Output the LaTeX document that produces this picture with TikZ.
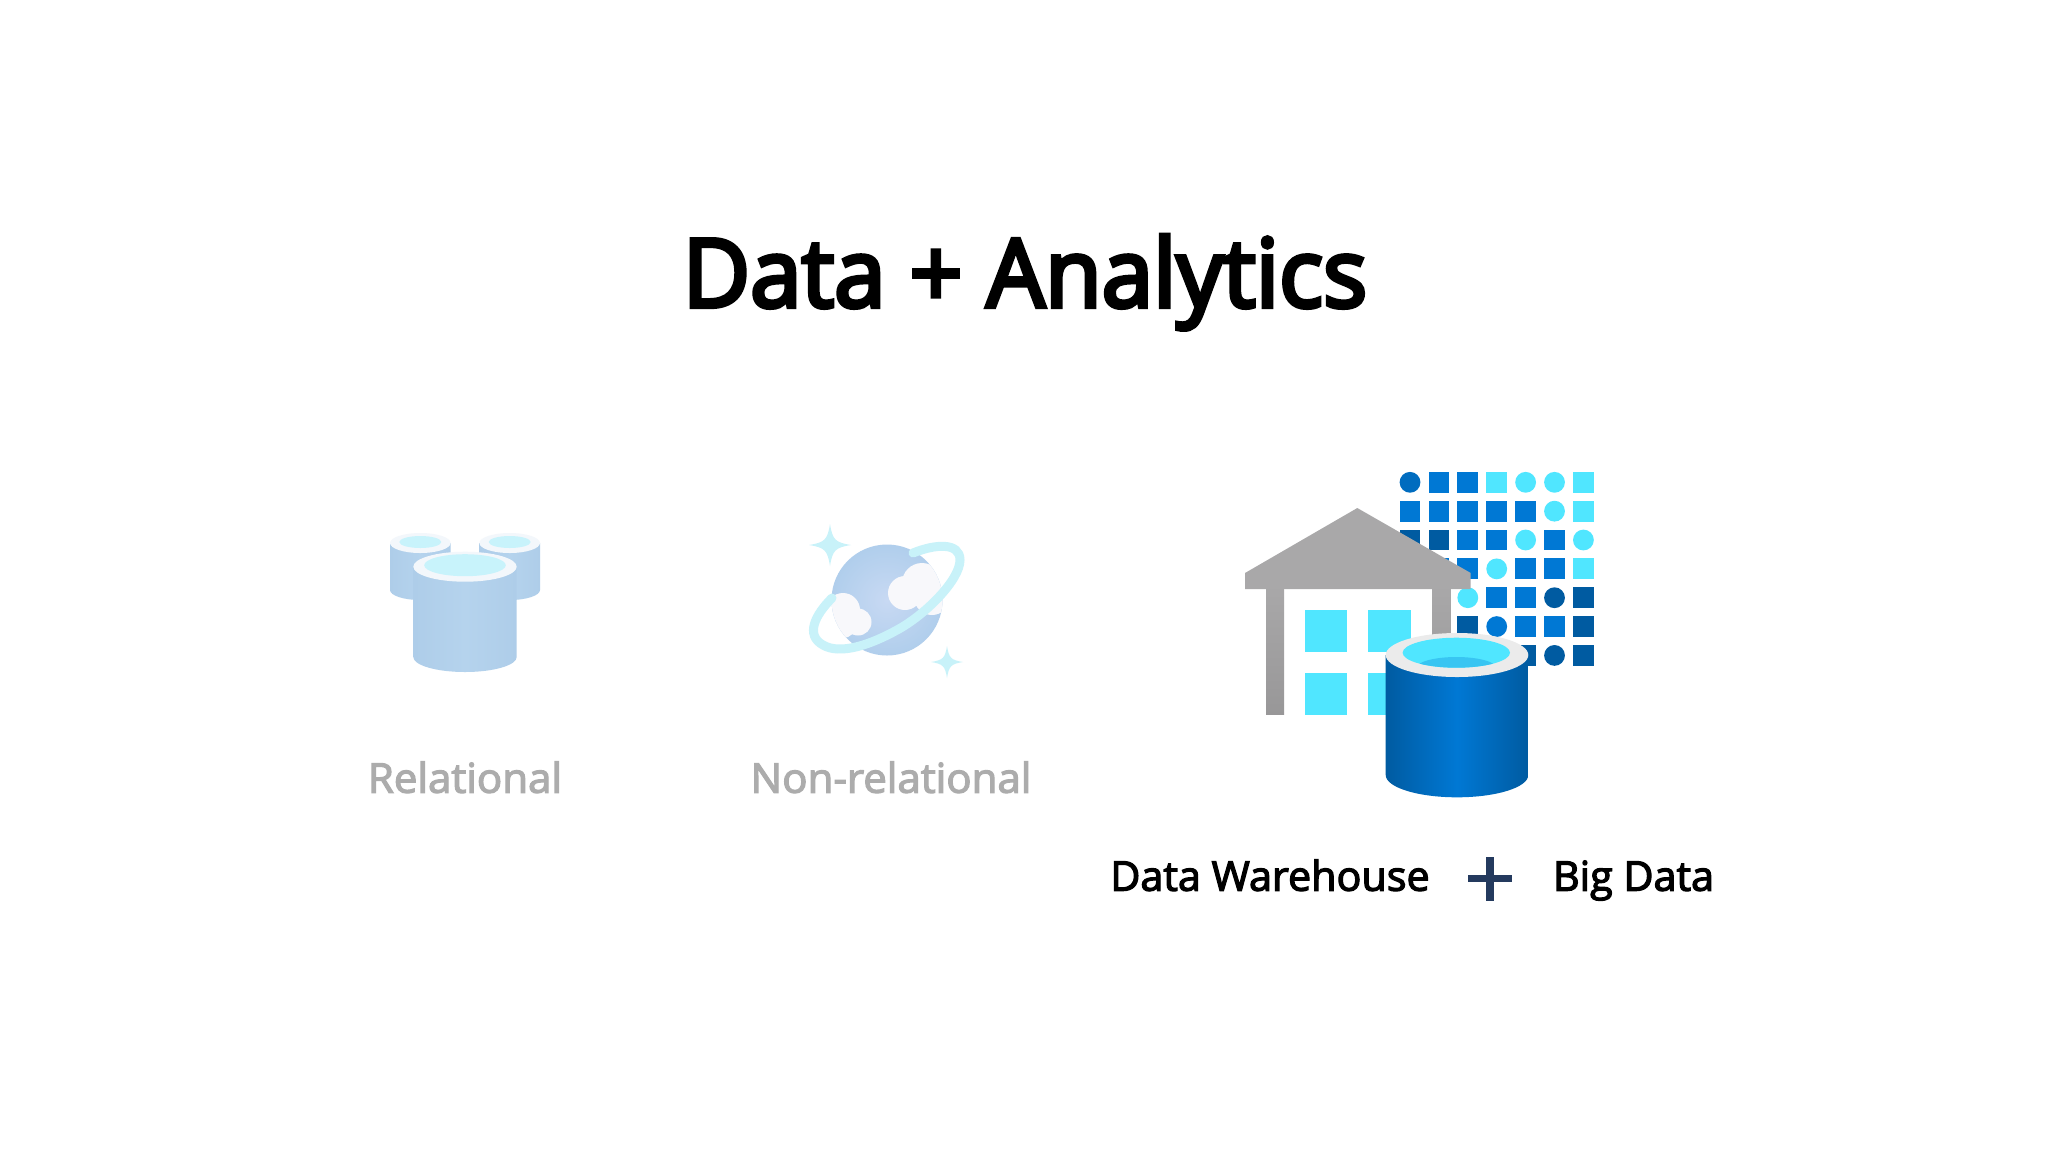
\documentclass[tikz,border=0pt]{standalone}
\usepackage{fontspec}
\setmainfont{Open Sans}
\newfontfamily\titlefont[FakeBold=4.5,FakeStretch=0.973]{Open Sans}
\newfontfamily\labfont[FakeBold=3,FakeStretch=1.007]{Open Sans}
\newfontfamily\fadefont[FakeBold=3,FakeStretch=1.025]{Open Sans}
\usetikzlibrary{calc}
\definecolor{azmid}{HTML}{0078D4}
\definecolor{azdark}{HTML}{005BA1}
\definecolor{azlight}{HTML}{50E6FF}
\definecolor{roofgrey}{HTML}{A9A8A9}
\definecolor{plusblue}{HTML}{243A5E}
\definecolor{fadetxt}{HTML}{ACACAC}
\definecolor{fadebody}{HTML}{B5D3ED}
\definecolor{fadebodyedge}{HTML}{AECDE9}
\definecolor{fadering}{HTML}{F3F7FB}
\definecolor{fadewater}{HTML}{C8F3FB}
\definecolor{fadeglobein}{HTML}{C8D9F3}
\definecolor{fadeglobeout}{HTML}{B0CEEC}
\definecolor{faderingb}{HTML}{C8F2F9}
\definecolor{fadecloud}{HTML}{F8F8FB}
\tikzset{
  x=0.5pt,y=-0.5pt,
  title/.style={font=\titlefont\fontsize{47.5}{56}\selectfont,text=black,inner sep=0pt,anchor=base},
  lab/.style={font=\labfont\fontsize{20.5}{25}\selectfont,text=black,inner sep=0pt,anchor=base},
  fadelab/.style={font=\fadefont\fontsize{20.5}{25}\selectfont,text=fadetxt,inner sep=0pt,anchor=base},
}
\newcommand{\fadedcyl}[8]{%
  \shade[left color=fadebodyedge,right color=fadebodyedge,middle color=fadebody]
    (#1-#3,#2) -- (#1-#3,#5) arc[start angle=180,end angle=360,x radius=#3,y radius=-#4]
    -- (#1+#3,#2) -- cycle;
  \fill[fadering] (#1,#2) ellipse[x radius=#3,y radius=#4];
  \fill[fadewater] (#1,#2+#8) ellipse[x radius=#6,y radius=#7];
}
\newcommand{\gridsq}[3]{\fill[#3] ({1410+28.9*#1-10.4},{482.3+28.85*#2-10.4}) rectangle ++(20.8,20.8);}
\newcommand{\griddot}[3]{\fill[#3] ({1410+28.9*#1},{482.3+28.85*#2}) circle[radius=10.4];}
\newcommand{\sparkle}[3]{\fill[faderingb] (#1,#2-#3) .. controls (#1+0.12*#3,#2-0.25*#3) and (#1+0.25*#3,#2-0.12*#3) .. (#1+#3,#2)
  .. controls (#1+0.25*#3,#2+0.12*#3) and (#1+0.12*#3,#2+0.25*#3) .. (#1,#2+#3)
  .. controls (#1-0.12*#3,#2+0.25*#3) and (#1-0.25*#3,#2+0.12*#3) .. (#1-#3,#2)
  .. controls (#1-0.25*#3,#2-0.12*#3) and (#1-0.12*#3,#2-0.25*#3) .. (#1,#2-#3) -- cycle;}
\begin{document}
\begin{tikzpicture}
\useasboundingbox (0,0) rectangle (2048,1152);
\fill[white] (0,0) rectangle (2048,1152);

\node[title] (ttl) at (1025,307) {Data + Analytics};

% relational icon
\fadedcyl{420.3}{543}{30.3}{10}{590}{21}{6}{-1}
\fadedcyl{509.7}{543}{30.3}{10}{590}{21}{6}{-1}
\fadedcyl{465}{566.7}{51.7}{15}{657}{40.8}{11}{-1.5}
\node[fadelab] (rel) at (465,792.7) {Relational};

% non-relational icon
\shade[inner color=fadeglobein,outer color=fadeglobeout] (887,600) circle[radius=55.5];
\begin{scope}
  \clip (887,600) circle[radius=55.5];
  \fill[fadecloud] (905,593) circle[radius=17] (922,583) circle[radius=20] (932,597) circle[radius=18];
  \fill[fadecloud] (843,610) circle[radius=17] (858,622) circle[radius=13.5] (843,625) circle[radius=13] (832,620) circle[radius=12];
\end{scope}
\draw[faderingb,line width=4.5pt,line cap=round]
  (913,553) .. controls (935,544) and (960,542) .. (960,560)
  .. controls (960,580) and (925,615) .. (897,630)
  .. controls (870,645) and (840,655) .. (823,645)
  .. controls (805,635) and (815,615) .. (832,598);
\sparkle{830}{545}{21}
\sparkle{947}{662}{16}
\node[fadelab] (nonrel) at (891,792.7) {Non-relational};

% big data grid
\griddot{0}{0}{azmid!90!black}\gridsq{1}{0}{azmid}\gridsq{2}{0}{azmid}\gridsq{3}{0}{azlight}\griddot{4}{0}{azlight}\griddot{5}{0}{azlight}\gridsq{6}{0}{azlight}
\gridsq{0}{1}{azmid}\gridsq{1}{1}{azmid}\gridsq{2}{1}{azmid}\gridsq{3}{1}{azmid}\gridsq{4}{1}{azmid}\griddot{5}{1}{azlight}\gridsq{6}{1}{azlight}
\gridsq{0}{2}{azdark}\gridsq{1}{2}{azdark}\gridsq{2}{2}{azmid}\gridsq{3}{2}{azmid}\griddot{4}{2}{azlight}\gridsq{5}{2}{azmid}\griddot{6}{2}{azlight}
\gridsq{1}{3}{azmid}\gridsq{2}{3}{azmid}\griddot{3}{3}{azlight}\gridsq{4}{3}{azmid}\gridsq{5}{3}{azmid}\gridsq{6}{3}{azlight}
\griddot{2}{4}{azlight}\gridsq{3}{4}{azmid}\gridsq{4}{4}{azmid}\griddot{5}{4}{azdark}\gridsq{6}{4}{azdark}
\gridsq{2}{5}{azdark}\griddot{3}{5}{azmid}\gridsq{4}{5}{azmid}\gridsq{5}{5}{azmid}\gridsq{6}{5}{azdark}
\gridsq{4}{6}{azdark}\griddot{5}{6}{azdark}\gridsq{6}{6}{azdark}

% warehouse
\fill[white] (1284,589) rectangle (1432.3,716);
\fill[azlight] (1304.7,610) rectangle (1347,652.3);
\fill[azlight] (1368.3,610) rectangle (1410.7,652.3);
\fill[azlight] (1304.7,673.3) rectangle (1347,715);
\fill[azlight] (1368.3,673.3) rectangle (1410.7,715);
\shade[top color=roofgrey,bottom color=roofgrey!90!black] (1266,585) rectangle (1284,714);
\shade[top color=roofgrey,bottom color=roofgrey!90!black] (1432.3,585) rectangle (1450.7,714);
\fill[roofgrey] (1357.3,508) -- (1470.7,573) -- (1470.7,589) -- (1245,589) -- (1245,573) -- cycle;

% cylinder
\shade[left color=azdark,right color=azdark,middle color=azmid]
  (1385.7,655) -- (1385.7,775) arc[start angle=180,end angle=360,x radius=71.3,y radius=-22.3]
  -- (1528.3,655) -- cycle;
\fill[black!8] (1457,655) ellipse[x radius=71.3,y radius=22];
\fill[azlight] (1456.3,652.7) ellipse[x radius=53.7,y radius=15];
\begin{scope}
  \clip (1456.3,652.7) ellipse[x radius=53.7,y radius=15];
  \fill[azlight!70!azmid] (1456.3,668) ellipse[x radius=40,y radius=11];
\end{scope}

% labels
\node[lab] (dw) at (1270,890.7) {Data Warehouse};
\coordinate (plusl) at (1468,878.5);
\coordinate (plusr) at (1512,878.5);
\coordinate (plust) at (1490,857);
\coordinate (plusb) at (1490,901);
\draw[plusblue,line width=3.6pt] (plusl) -- (plusr);
\draw[plusblue,line width=3.6pt] (plust) -- (plusb);
\node[lab] (bd) at (1633.5,890.7) {Big Data};
\end{tikzpicture}
\end{document}
